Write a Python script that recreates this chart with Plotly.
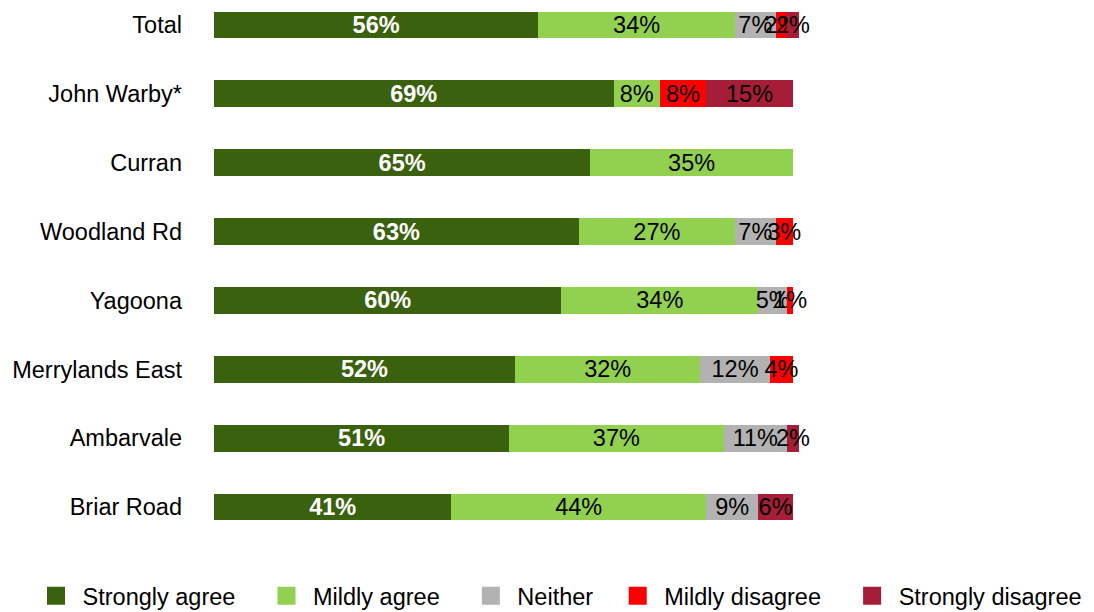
import plotly.graph_objects as go

categories = ["Total", "John Warby*", "Curran", "Woodland Rd", "Yagoona",
              "Merrylands East", "Ambarvale", "Briar Road"]
strongly_agree = [56, 69, 65, 63, 60, 52, 51, 41]
mildly_agree = [34, 8, 35, 27, 34, 32, 37, 44]
neither = [7, 0, 0, 7, 5, 12, 11, 9]
mildly_disagree = [2, 8, 0, 3, 1, 4, 0, 0]
strongly_disagree = [2, 15, 0, 0, 0, 0, 2, 6]
legend_names = ["Strongly agree", "Mildly agree", "Neither",
                "Mildly disagree", "Strongly disagree"]

series = [
    (legend_names[0], strongly_agree, "#3A610E", "white", True),
    (legend_names[1], mildly_agree, "#92D050", "black", False),
    (legend_names[2], neither, "#B2B2B2", "black", False),
    (legend_names[3], mildly_disagree, "#FF0000", "black", False),
    (legend_names[4], strongly_disagree, "#A51D36", "black", False),
]

FONT = "Liberation Sans, Arial, sans-serif"
FS = 23.5
# plot area spans x=214..1094; 100% maps to x=793
PLOT_W = 1094 - 214
PLOT_H = 612 - 67
XMAX = 100 * PLOT_W / 579
trail_pad = [4, 4, 3, 4, 0]

fig = go.Figure()
for i, (name, vals, color, tcolor, bold) in enumerate(series):
    labels = [(f"<b>{v}%</b>" if bold else f"{v}%") if v else "" for v in vals]
    fig.add_trace(go.Bar(
        y=categories, x=vals, orientation="h", name=name,
        marker=dict(color=color, line=dict(width=0)),
        text=labels, texttemplate="%{text}", textposition="inside",
        insidetextanchor="middle", constraintext="none", textangle=0,
        textfont=dict(color=tcolor, size=FS, family=FONT),
        cliponaxis=False, width=0.39, showlegend=False, hoverinfo="skip",
    ))
    fig.add_trace(go.Scatter(
        x=[None], y=[None], mode="markers",
        name="\u00a0" + name + "\u00a0" * trail_pad[i],
        marker=dict(symbol="square", size=20, color=color,
                    line=dict(color=color, width=2)),
        showlegend=True,
    ))

fig.update_layout(
    barmode="stack",
    width=1094, height=612,
    margin=dict(l=214, r=0, t=0, b=67, autoexpand=False),
    paper_bgcolor="white", plot_bgcolor="white",
    font=dict(family=FONT, size=FS, color="black"),
    xaxis=dict(range=[0, XMAX], visible=False, fixedrange=True),
    yaxis=dict(categoryorder="array", categoryarray=categories,
               range=[7.552, -0.363], showgrid=False, showline=False,
               ticks="", ticklabelstandoff=31,
               tickfont=dict(size=FS, family=FONT, color="black")),
    legend=dict(orientation="h", x=(36 - 214) / PLOT_W, xanchor="left",
                y=-51 / PLOT_H, yanchor="middle", font=dict(size=FS, family=FONT),
                itemsizing="trace", traceorder="normal"),
    showlegend=True,
)

fig.write_html("out.html")
